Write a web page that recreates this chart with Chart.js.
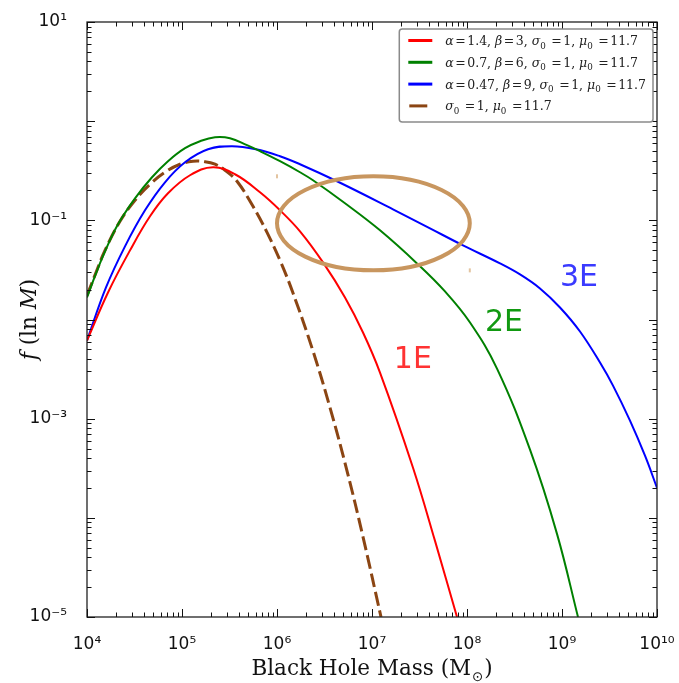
<!DOCTYPE html>
<html><head><meta charset="utf-8">
<script src="https://cdn.jsdelivr.net/npm/chart.js@4.4.1/dist/chart.umd.min.js"></script>
<style>html,body{margin:0;padding:0;background:#fff;}canvas{display:block}</style>
</head><body>
<canvas id="c" width="679" height="683"></canvas>
<script>
// ---------- data ----------
const seriesLabels = ['α=1.4, β=3, σ₀ =1, μ₀ =11.7', 'α=0.7, β=6, σ₀ =1, μ₀ =11.7', 'α=0.47, β=9, σ₀ =1, μ₀ =11.7', 'σ₀ =1, μ₀ =11.7'];
const seriesColors = ['#ff0000', '#008000', '#0000ff', '#8b4513'];
const curveTags = ['1E', '2E', '3E'];
const tagColors = ['#ff3333', '#119911', '#3a3aff'];
const tagMass = [2.69e7, 2.45e8, 1.51e9];
const tagF = [4.17e-3, 1.0e-2, 2.82e-2];

const redMass = [1e4, 1.664e4, 2.836e4, 4.605e4, 7.122e4, 1.214e5, 2.120e5, 3.613e5, 6.624e5, 1.076e6, 1.746e6, 3.050e6, 5.197e6, 8.040e6, 1.214e7, 2.702e7, 4.605e7, 7.848e7];
const redF    = [6.137e-3, 1.874e-2, 4.977e-2, 0.1098, 0.1874, 0.2848, 0.3430, 0.2915, 0.1918, 0.1262, 7.743e-2, 3.765e-2, 1.668e-2, 7.391e-3, 2.915e-3, 3.200e-4, 5.857e-5, 1e-5];

const greenMass = [1e4, 1.244e4, 1.547e4, 2.120e4, 3.201e4, 4.834e4, 7.122e4, 1.076e5, 1.547e5, 2.226e5, 3.201e5, 4.834e5, 6.624e5, 1.076e6, 1.746e6, 2.393e6, 5.197e6, 1.214e7, 2.976e7, 5.867e7, 1.076e8, 2.069e8, 4.605e8, 8.859e8, 1.474e9];
const greenF    = [1.668e-2, 2.915e-2, 4.863e-2, 9.112e-2, 0.1668, 0.2719, 0.3945, 0.5337, 0.6281, 0.6894, 0.6736, 0.5723, 0.4977, 0.3945, 0.3054, 0.2535, 0.1485, 7.925e-2, 3.679e-2, 1.918e-2, 9.326e-3, 3.200e-3, 4.863e-4, 6.894e-5, 1e-5];

const blueMass = [1e4, 1.585e4, 2.512e4, 4.078e4, 6.624e4, 1.076e5, 1.878e5, 3.360e5, 6.009e5, 1.076e6, 1.746e6, 4.281e6, 1.664e7, 4.078e7, 9.078e7, 2.226e8, 3.613e8, 5.867e8, 9.526e8, 1.547e9, 2.512e9, 3.443e9, 5.197e9, 7.477e9, 1e10];
const blueF    = [6.137e-3, 2.104e-2, 5.463e-2, 0.1262, 0.2420, 0.3853, 0.5214, 0.5592, 0.5214, 0.4432, 0.3679, 0.2477, 0.1292, 8.303e-2, 5.592e-2, 3.679e-2, 2.848e-2, 2.056e-2, 1.322e-2, 7.565e-3, 3.679e-3, 2.154e-3, 9.546e-4, 4.229e-4, 2.009e-4];

const brownMass = [1e4, 1.244e4, 1.547e4, 2.226e4, 3.201e4, 4.605e4, 6.624e4, 9.526e4, 1.306e5, 1.746e5, 2.226e5, 2.836e5, 3.793e5, 5.590e5, 7.848e5, 1.076e6, 1.474e6, 2.393e6, 3.613e6, 5.456e6, 8.040e6, 1.244e7];
const brownF    = [1.747e-2, 2.983e-2, 4.977e-2, 9.770e-2, 0.1592, 0.2310, 0.3054, 0.3679, 0.3945, 0.3898, 0.3679, 0.3200, 0.2477, 0.1385, 7.565e-2, 3.945e-2, 1.848e-2, 4.806e-3, 1.292e-3, 2.983e-4, 6.428e-5, 1e-5];

const xTickValues = [1e4, 1e5, 1e6, 1e7, 1e8, 1e9, 1e10];
const xTickLabels = ['10⁴', '10⁵', '10⁶', '10⁷', '10⁸', '10⁹', '10¹⁰'];
const yTickValues = [1e-5, 1e-3, 1e-1, 1e1];
const yTickLabels = ['10⁻⁵', '10⁻³', '10⁻¹', '10¹'];
const xTitle = 'Black Hole Mass (M⊙)';
const yTitle = 'f (ln M)';
const ellipseMass = [1.0e6, 1.07e8];
const ellipseF = [0.278, 0.0313];

// ---------- helpers ----------
function pts(xs, ys) { return xs.map((v, i) => ({ x: v, y: ys[i] })); }

function richText(ctx, text, x, y, size, family, italicLatin, dry) {
  let cx = x;
  const chars = Array.from(text);
  for (let i = 0; i < chars.length; i++) {
    let ch = chars[i];
    let font = size + 'px ' + family;
    let dy = 0, pre = 0, post = 0;
    const code = ch.codePointAt(0);
    if (ch === '₀') { ch = '0'; font = (size * 0.7) + 'px ' + family; dy = size * 0.28; }
    else if (ch === '⊙') { font = (size * 0.62) + 'px "DejaVu Sans"'; dy = size * 0.3; pre = 1; post = 1; }
    else if (code >= 0x3B1 && code <= 0x3C9) { font = 'italic ' + size + 'px ' + family; }
    else if (ch === '=') { pre = size * 0.12; post = size * 0.12; }
    else if (italicLatin && /[A-Za-z]/.test(ch)) {
      const prev = chars[i - 1] || ' ', next = chars[i + 1] || ' ';
      if (!/[A-Za-z]/.test(prev) && !/[A-Za-z]/.test(next)) font = 'italic ' + size + 'px ' + family;
    }
    ctx.font = font;
    cx += pre;
    if (!dry) ctx.fillText(ch, cx, y + dy);
    cx += ctx.measureText(ch).width + post;
  }
  return cx - x;
}

const decor = {
  id: 'decor',
  afterDatasetsDraw(chart) {
    const { ctx, scales: { x, y }, chartArea: ca } = chart;
    ctx.save();
    ctx.beginPath(); ctx.rect(ca.left, ca.top, ca.right - ca.left, ca.bottom - ca.top); ctx.clip();
    const x0 = x.getPixelForValue(ellipseMass[0]), x1 = x.getPixelForValue(ellipseMass[1]);
    const y0 = y.getPixelForValue(ellipseF[0]), y1 = y.getPixelForValue(ellipseF[1]);
    ctx.strokeStyle = '#c8965f'; ctx.lineWidth = 4;
    ctx.beginPath();
    ctx.ellipse((x0 + x1) / 2, (y0 + y1) / 2, Math.abs(x1 - x0) / 2, Math.abs(y1 - y0) / 2, 0, 0, Math.PI * 2);
    ctx.stroke();
    ctx.fillStyle = '#e3c4a0';
    ctx.fillRect(x0 - 1, y0 - 2, 2, 4);
    ctx.fillRect(x1 - 1, y1 - 2, 2, 4);
    ctx.textAlign = 'center'; ctx.textBaseline = 'alphabetic';
    ctx.font = '30px "DejaVu Sans"';
    curveTags.forEach((t, i) => {
      ctx.fillStyle = tagColors[i];
      ctx.fillText(t, x.getPixelForValue(tagMass[i]), y.getPixelForValue(tagF[i]) + 11);
    });
    ctx.restore();
  },
  afterDraw(chart) {
    const { ctx, scales: { x, y }, chartArea: ca } = chart;
    ctx.save();
    ctx.strokeStyle = '#222'; ctx.lineWidth = 1.3;
    ctx.strokeRect(ca.left, ca.top, ca.right - ca.left, ca.bottom - ca.top);
    ctx.strokeStyle = '#111'; ctx.lineWidth = 1;
    ctx.beginPath();
    for (let e = 4; e <= 10; e++) {
      for (let k = 1; k <= 9; k++) {
        const v = k * Math.pow(10, e);
        if (v > 1.0001e10) break;
        const px = Math.round(x.getPixelForValue(v)) + 0.5;
        const len = k === 1 ? 8 : 4.5;
        ctx.moveTo(px, ca.bottom); ctx.lineTo(px, ca.bottom - len);
        ctx.moveTo(px, ca.top); ctx.lineTo(px, ca.top + len);
      }
    }
    for (let e = -5; e <= 1; e++) {
      for (let k = 1; k <= 9; k++) {
        const v = k * Math.pow(10, e);
        if (v > 10.0001) break;
        const py = Math.round(y.getPixelForValue(v)) + 0.5;
        const len = k === 1 ? 8 : 4.5;
        ctx.moveTo(ca.left, py); ctx.lineTo(ca.left + len, py);
        ctx.moveTo(ca.right, py); ctx.lineTo(ca.right - len, py);
      }
    }
    ctx.stroke();

    // legend
    const fam = '"DejaVu Serif"', fs = 12.5;
    let tw = 0;
    seriesLabels.forEach(l => { tw = Math.max(tw, richText(ctx, l, 0, 0, fs, fam, false, true)); });
    const bw = 9 + 24 + 13 + tw + 7, bh = 93;
    const bx = ca.right - 4 - bw, by = ca.top + 7;
    ctx.fillStyle = '#fff'; ctx.strokeStyle = '#8a8a8a'; ctx.lineWidth = 1.5;
    ctx.beginPath(); ctx.roundRect(bx, by, bw, bh, 3); ctx.fill(); ctx.stroke();
    seriesLabels.forEach((l, i) => {
      const ry = by + 11.5 + i * 21.8;
      ctx.strokeStyle = seriesColors[i];
      ctx.lineWidth = 3;
      ctx.beginPath();
      if (i === 3) { ctx.moveTo(bx + 10, ry); ctx.lineTo(bx + 28, ry); }
      else { ctx.moveTo(bx + 9, ry); ctx.lineTo(bx + 33, ry); }
      ctx.stroke();
      ctx.fillStyle = '#222'; ctx.textAlign = 'left'; ctx.textBaseline = 'alphabetic';
      richText(ctx, l, bx + 46, ry + 4.5, fs, fam, false, false);
    });

    // axis titles
    const tfam = '"DejaVu Serif"', tfs = 21.5;
    ctx.fillStyle = '#111'; ctx.textAlign = 'left'; ctx.textBaseline = 'alphabetic';
    const xw = richText(ctx, xTitle, 0, 0, tfs, tfam, false, true);
    richText(ctx, xTitle, (ca.left + ca.right) / 2 - xw / 2, 675, tfs, tfam, false, false);
    ctx.save();
    ctx.translate(36, (ca.top + ca.bottom) / 2);
    ctx.rotate(-Math.PI / 2);
    const yw = richText(ctx, yTitle, 0, 0, tfs, tfam, true, true);
    richText(ctx, yTitle, -yw / 2, 0, tfs, tfam, true, false);
    ctx.restore();
    ctx.restore();
  }
};

const lineBase = { pointRadius: 0, borderWidth: 2, fill: false, tension: 0.4 };

new Chart(document.getElementById('c'), {
  type: 'line',
  data: {
    datasets: [
      { ...lineBase, label: seriesLabels[0], data: pts(redMass, redF), borderColor: seriesColors[0] },
      { ...lineBase, label: seriesLabels[1], data: pts(greenMass, greenF), borderColor: seriesColors[1] },
      { ...lineBase, label: seriesLabels[2], data: pts(blueMass, blueF), borderColor: seriesColors[2] },
      { ...lineBase, label: seriesLabels[3], data: pts(brownMass, brownF), borderColor: seriesColors[3], borderWidth: 3, borderDash: [14, 5] }
    ]
  },
  options: {
    responsive: false,
    animation: false,
    layout: { padding: { top: 22, right: 22, left: 0, bottom: 0 } },
    plugins: { legend: { display: false }, tooltip: { enabled: false } },
    scales: {
      x: {
        type: 'logarithmic', min: 1e4, max: 1e10, position: 'bottom',
        grid: { display: false }, border: { display: false },
        afterBuildTicks: s => { s.ticks = xTickValues.map(v => ({ value: v, major: true })); },
        afterFit: s => { s.height = 66; s.paddingLeft = 0; s.paddingRight = 0; },
        ticks: {
          autoSkip: false, maxRotation: 0, padding: 9, color: '#111',
          font: { family: '"DejaVu Sans"', size: 17 },
          callback: v => { const i = xTickValues.findIndex(t => Math.abs(t - v) / t < 1e-6); return i >= 0 ? xTickLabels[i] : ''; }
        }
      },
      y: {
        type: 'logarithmic', min: 1e-5, max: 10,
        grid: { display: false }, border: { display: false },
        afterBuildTicks: s => { s.ticks = yTickValues.map(v => ({ value: v, major: true })); },
        afterFit: s => { s.width = 87; s.paddingTop = 0; s.paddingBottom = 0; },
        ticks: {
          autoSkip: false, padding: 12, color: '#111',
          font: { family: '"DejaVu Sans"', size: 17 },
          callback: v => { const i = yTickValues.findIndex(t => Math.abs(t - v) / t < 1e-6); return i >= 0 ? yTickLabels[i] : ''; }
        }
      }
    }
  },
  plugins: [decor]
});
</script>
</body></html>
